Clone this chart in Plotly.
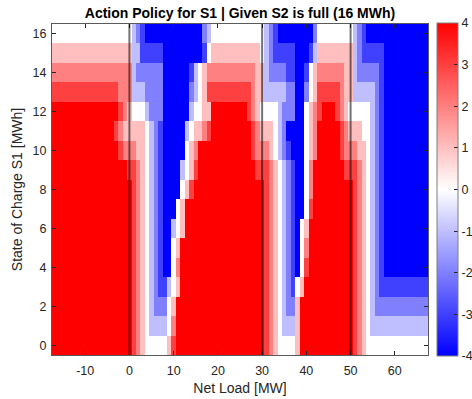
import plotly.graph_objects as go

# Net load axis (MW) and state-of-charge axis (MWh)
net_load = list(range(-17, 68))
soc = list(range(0, 17))
x_ticks = [-10, 0, 10, 20, 30, 40, 50, 60]
y_ticks = [0, 2, 4, 6, 8, 10, 12, 14, 16]
cbar_ticks = [-4, -3, -2, -1, 0, 1, 2, 3, 4]
threshold_lines = [0, 30, 50]

# Action values per SOC row, written as run-lengths (value, number of cells) from x=-17 to 67
row16 = [(0, 18), (-1, 1), (-2, 1), (-3, 1), (-4, 13), (-2, 1), (-1, 1), (0, 12), (-1, 1), (-2, 1), (-3, 1),
         (-4, 8), (-2, 1), (0, 8), (-1, 1), (-2, 1), (-3, 1), (-4, 14)]
row15 = [(1, 18), (-1, 2), (-3, 5), (-4, 9), (-3, 1), (0, 1), (1, 11), (0, 1), (-1, 1), (-2, 1), (-3, 5),
         (-4, 3), (-3, 1), (-1, 1), (1, 8), (-1, 1), (-2, 1), (-3, 5), (-4, 10)]
row14 = [(2, 18), (-1, 1), (-2, 6), (-4, 6), (-3, 1), (-1, 1), (0, 1), (1, 1), (2, 11), (1, 2), (-1, 1), (-2, 4),
         (-3, 2), (-4, 2), (-3, 1), (0, 1), (1, 1), (2, 6), (1, 2), (-1, 1), (-2, 5), (-3, 1), (-4, 10)]
row13 = [(3, 15), (2, 3), (-1, 3), (-2, 4), (-4, 6), (-2, 1), (-1, 1), (0, 1), (1, 1), (3, 10), (2, 1), (1, 2),
         (-1, 5), (-2, 2), (-4, 2), (-2, 1), (0, 1), (1, 1), (3, 5), (2, 1), (1, 2), (-1, 5), (-2, 1), (-3, 1),
         (-4, 10)]
row12 = [(4, 15), (3, 1), (2, 1), (1, 1), (0, 3), (-1, 1), (-2, 3), (-4, 6), (-1, 1), (0, 2), (1, 2), (4, 8),
         (3, 1), (2, 1), (1, 1), (0, 4), (-1, 1), (-2, 3), (-4, 2), (0, 1), (1, 1), (2, 1), (3, 1), (4, 3), (3, 1),
         (2, 1), (1, 1), (0, 5), (-1, 1), (-2, 1), (-3, 1), (-4, 10)]
row11 = [(4, 14), (3, 1), (2, 1), (1, 5), (0, 1), (-1, 1), (-2, 1), (-3, 1), (-4, 5), (-1, 1), (0, 1), (1, 2),
         (2, 1), (3, 1), (4, 9), (3, 1), (2, 1), (1, 3), (0, 1), (-1, 1), (-2, 1), (-4, 4), (0, 1), (1, 1), (2, 1),
         (4, 5), (3, 1), (2, 1), (1, 3), (0, 2), (-1, 1), (-2, 1), (-3, 1), (-4, 10)]
row10 = [(4, 15), (3, 1), (2, 3), (1, 2), (0, 1), (-1, 1), (-2, 1), (-3, 1), (-4, 5), (0, 1), (1, 1), (2, 1),
         (4, 12), (3, 1), (2, 3), (1, 1), (0, 1), (-1, 1), (-2, 1), (-3, 1), (-4, 3), (0, 1), (1, 1), (2, 1),
         (4, 5), (3, 1), (2, 3), (1, 2), (0, 1), (-1, 1), (-2, 1), (-3, 1), (-4, 10)]
row9 = [(4, 17), (3, 2), (2, 1), (1, 1), (0, 1), (-1, 1), (-2, 1), (-3, 1), (-4, 4), (-1, 1), (0, 1), (1, 1),
        (3, 1), (4, 13), (3, 3), (2, 1), (1, 1), (0, 1), (-1, 1), (-2, 1), (-3, 1), (-4, 2), (0, 1), (2, 1),
        (4, 7), (3, 3), (2, 1), (1, 1), (0, 1), (-1, 1), (-2, 1), (-3, 1), (-4, 10)]
row8 = [(4, 18), (3, 1), (2, 1), (1, 1), (0, 1), (-1, 1), (-2, 1), (-3, 1), (-4, 4), (0, 1), (1, 1), (3, 1),
        (4, 16), (3, 1), (2, 1), (1, 1), (0, 1), (-1, 1), (-2, 1), (-3, 1), (-4, 2), (0, 1), (2, 1), (4, 9),
        (3, 1), (2, 1), (1, 1), (0, 1), (-1, 1), (-2, 1), (-3, 1), (-4, 10)]
row7 = [(4, 18), (3, 1), (2, 1), (1, 1), (0, 1), (-1, 1), (-2, 1), (-3, 1), (-4, 3), (0, 1), (1, 1), (4, 18),
        (3, 1), (2, 1), (1, 1), (0, 1), (-1, 1), (-2, 1), (-3, 1), (-4, 2), (0, 1), (3, 1), (4, 9), (3, 1),
        (2, 1), (1, 1), (0, 1), (-1, 1), (-2, 1), (-3, 1), (-4, 10)]
row6 = [(4, 18), (3, 1), (2, 1), (1, 1), (0, 1), (-1, 1), (-2, 1), (-3, 1), (-4, 2), (-1, 1), (0, 1), (1, 1),
        (4, 18), (3, 1), (2, 1), (1, 1), (0, 1), (-1, 1), (-2, 1), (-3, 1), (-4, 1), (0, 1), (1, 1), (4, 10),
        (3, 1), (2, 1), (1, 1), (0, 1), (-1, 1), (-2, 1), (-3, 1), (-4, 10)]
row5 = [(4, 18), (3, 1), (2, 1), (1, 1), (0, 1), (-1, 1), (-2, 1), (-3, 1), (-4, 2), (0, 1), (1, 1), (4, 19),
        (3, 1), (2, 1), (1, 1), (0, 1), (-1, 1), (-2, 1), (-3, 1), (-4, 1), (0, 1), (2, 1), (4, 10), (3, 1),
        (2, 1), (1, 1), (0, 1), (-1, 1), (-2, 1), (-3, 1), (-4, 10)]
row4 = [(4, 18), (3, 1), (2, 1), (1, 1), (0, 1), (-1, 1), (-2, 1), (-3, 1), (-4, 2), (0, 1), (2, 1), (4, 19),
        (3, 1), (2, 1), (1, 1), (0, 1), (-1, 1), (-2, 1), (-3, 1), (-4, 1), (0, 1), (3, 1), (4, 10), (3, 1),
        (2, 1), (1, 1), (0, 1), (-1, 1), (-2, 1), (-3, 1), (-4, 10)]
row3 = [(4, 18), (3, 1), (2, 1), (1, 1), (0, 1), (-1, 1), (-2, 1), (-3, 2), (-1, 1), (0, 1), (1, 1), (4, 19),
        (3, 1), (2, 1), (1, 1), (0, 1), (-1, 1), (-2, 1), (-3, 1), (0, 1), (1, 1), (4, 11), (3, 1), (2, 1),
        (1, 1), (0, 1), (-1, 1), (-2, 1), (-3, 11)]
row2 = [(4, 18), (3, 1), (2, 1), (1, 1), (0, 1), (-1, 1), (-2, 3), (0, 1), (1, 1), (4, 20), (3, 1), (2, 1),
        (1, 1), (0, 1), (-1, 1), (-2, 2), (1, 1), (4, 12), (3, 1), (2, 1), (1, 1), (0, 1), (-1, 1), (-2, 12)]
row1 = [(4, 18), (3, 1), (2, 1), (1, 1), (0, 1), (-1, 4), (0, 1), (2, 1), (4, 20), (3, 1), (2, 1), (1, 1),
        (0, 1), (-1, 3), (1, 1), (4, 12), (3, 1), (2, 1), (1, 1), (0, 1), (-1, 13)]
row0 = [(4, 18), (3, 1), (2, 1), (1, 1), (0, 5), (1, 1), (3, 1), (4, 20), (3, 1), (2, 1), (1, 1), (0, 4),
        (1, 1), (4, 12), (3, 1), (2, 1), (1, 1), (0, 14)]


def expand(runs):
    out = []
    for v, n in runs:
        out.extend([v] * n)
    assert len(out) == len(net_load), len(out)
    return out


rows = [row0, row1, row2, row3, row4, row5, row6, row7, row8, row9, row10, row11, row12, row13, row14, row15, row16]
z = [expand(r) for r in rows]

font_family = "Liberation Sans, Arial, Helvetica, sans-serif"
tick_col = "#262626"
tick_size = 12.5
label_size = 14

fig = go.Figure()
fig.add_trace(go.Heatmap(
    x=net_load, y=soc, z=z, zmin=-4, zmax=4,
    colorscale=[[0, "rgb(0,0,255)"], [0.5, "rgb(255,255,255)"], [1, "rgb(255,0,0)"]],
    colorbar=dict(
        x=1.024, xanchor="left", xpad=0, ypad=0,
        y=0.5, yanchor="middle", len=1.005, lenmode="fraction",
        thickness=21, outlinecolor="#7f7f7f", outlinewidth=1,
        tickvals=cbar_ticks, ticktext=[str(v) for v in cbar_ticks],
        ticks="inside", ticklen=4, tickcolor=tick_col,
        tickfont=dict(size=tick_size, color=tick_col, family=font_family),
    ),
    hoverongaps=False,
))

for xv in threshold_lines:
    fig.add_shape(type="line", x0=xv, x1=xv, y0=0, y1=1, xref="x", yref="paper",
                  line=dict(color="rgba(0,0,0,0.55)", width=2))

fig.update_layout(
    width=472, height=399,
    margin=dict(l=52, r=44, t=24, b=44, autoexpand=False),
    paper_bgcolor="white", plot_bgcolor="white",
    font=dict(family=font_family, size=tick_size, color=tick_col),
    title=dict(text="<b>Action Policy for S1 | Given S2 is full (16 MWh)</b>",
               x=0.5, xref="paper", xanchor="center",
               y=1 - 13 / 399, yref="container", yanchor="middle",
               font=dict(size=label_size, color="black", family=font_family)),
)
fig.update_xaxes(
    range=[-17.5, 67.5], tickvals=x_ticks, ticktext=[str(v) for v in x_ticks],
    ticks="inside", ticklen=4, tickcolor=tick_col,
    showline=True, linecolor="#5a5a5a", linewidth=1, mirror="ticks", showgrid=False, zeroline=False,
    tickfont=dict(size=tick_size, color=tick_col), ticklabelstandoff=4,
    title=dict(text="Net Load [MW]", font=dict(size=label_size, color=tick_col), standoff=6),
)
fig.update_yaxes(
    range=[-0.5, 16.5], tickvals=y_ticks, ticktext=[str(v) for v in y_ticks],
    ticks="inside", ticklen=4, tickcolor=tick_col,
    showline=True, linecolor="#5a5a5a", linewidth=1, mirror="ticks", showgrid=False, zeroline=False,
    tickfont=dict(size=tick_size, color=tick_col), ticklabelstandoff=2,
    title=dict(text="State of Charge S1 [MWh]", font=dict(size=label_size, color=tick_col), standoff=6),
)

fig.write_html("out.html")
